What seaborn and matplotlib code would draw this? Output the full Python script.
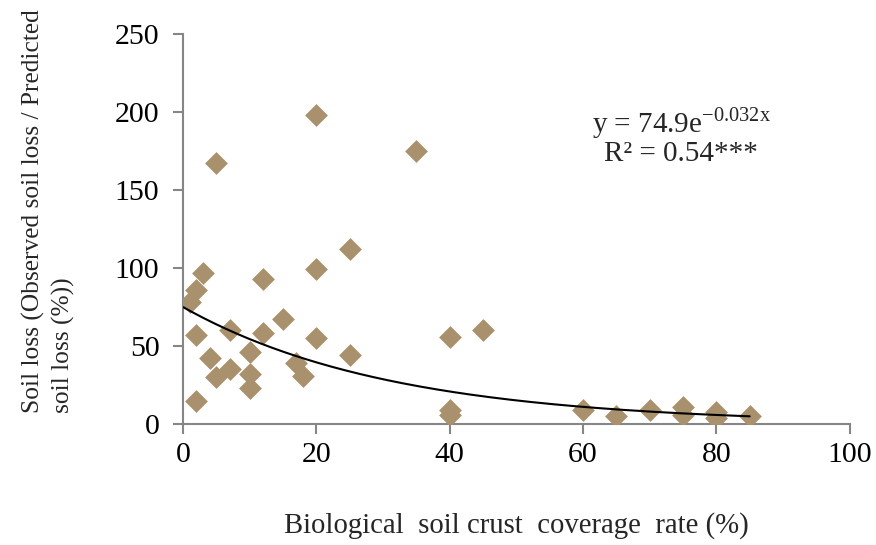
import numpy as np
import pandas as pd
import matplotlib
matplotlib.use("Agg")
import matplotlib.pyplot as plt
import seaborn as sns

# Biological soil crust coverage (%) and relative soil loss (%)
coverage = [1, 2, 2, 2, 3, 4, 5, 5, 7, 7, 10, 10, 10, 12, 12, 15, 17, 18,
            20, 20, 20, 25, 25, 35, 40, 40, 40, 45, 60, 65, 70, 75, 75, 80, 80, 85]
soil_loss = [78, 86, 57, 15, 97, 42, 167, 30, 60, 35, 46, 32, 23, 93, 58, 67, 39, 31,
             198, 99, 55, 112, 44, 175, 56, 9, 6, 60, 9, 5, 9, 11, 6, 8, 4, 5]

# Exponential fit parameters
fit_a = 74.9
fit_b = -0.032
fit_r2 = 0.54

x_ticks = [0, 20, 40, 60, 80, 100]
y_ticks = [0, 50, 100, 150, 200, 250]

df = pd.DataFrame({"coverage": coverage, "soil_loss": soil_loss})

sns.set_theme(style="white")
plt.rcParams["font.family"] = ["Liberation Serif", "DejaVu Serif"]
plt.rcParams["mathtext.fontset"] = "custom"
plt.rcParams["mathtext.rm"] = "Liberation Serif"

fig, ax = plt.subplots(figsize=(8.76, 5.45), dpi=100)
fig.subplots_adjust(left=0.209, right=0.970, top=0.938, bottom=0.222)

sns.scatterplot(data=df, x="coverage", y="soil_loss", marker="D", s=135,
                color="#A8916C", linewidth=0, ax=ax, zorder=3)

xf = np.linspace(0, max(coverage), 200)
sns.lineplot(x=xf, y=fit_a * np.exp(fit_b * xf), color="black", linewidth=1.5,
             ax=ax, zorder=4)

ax.set_xlim(0, 100)
ax.set_ylim(0, 250)
ax.set_xticks(x_ticks)
ax.set_yticks(y_ticks)
ax.tick_params(axis="both", labelsize=21.5, colors="#868686", labelcolor="black",
               length=7, width=1.5, direction="out", bottom=True, left=True)
ax.tick_params(axis="x", pad=6)
ax.tick_params(axis="y", pad=10)

for side in ["top", "right"]:
    ax.spines[side].set_visible(False)
for side in ["left", "bottom"]:
    ax.spines[side].set_color("#868686")
    ax.spines[side].set_linewidth(1.5)

ax.set_xlabel("Biological  soil crust  coverage  rate (%)", fontsize=20.7, labelpad=32)
ax.set_ylabel("")
fig.text(0.025, 0.242, "Soil loss (Observed soil loss / Predicted\nsoil loss (%))",
         rotation=90, fontsize=18.3, ha="left", va="bottom",
         multialignment="left", linespacing=1.37)

ax.text(0.747, 0.772, r"y = 74.9e$^{\mathrm{-0.032x}}$", transform=ax.transAxes,
        fontsize=21, ha="center", va="center")
ax.text(0.747, 0.692, "R² = 0.54***", transform=ax.transAxes,
        fontsize=21, ha="center", va="center")

fig.savefig("out.png", dpi=100)
